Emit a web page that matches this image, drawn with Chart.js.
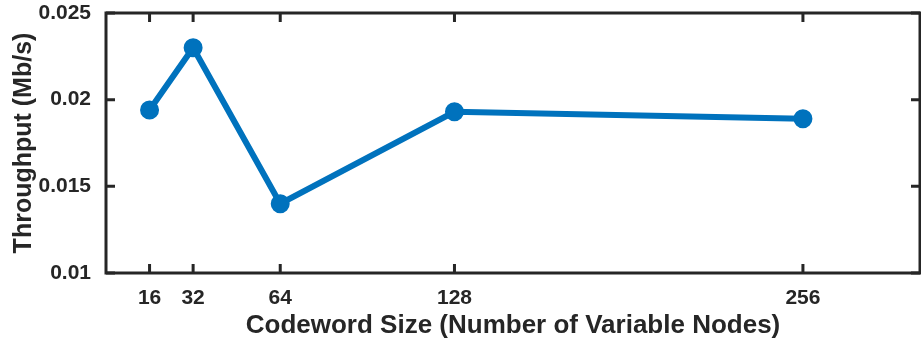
<!DOCTYPE html>
<html>
<head>
<meta charset="utf-8">
<script src="https://cdn.jsdelivr.net/npm/chart.js@4.4.1/dist/chart.umd.min.js"></script>
<style>
    html, body { margin: 0; padding: 0; background: #fff; overflow: hidden; }
    #wrap { width: 921px; height: 350px; position: relative; }
</style>
</head>
<body>
<div id="wrap"><canvas id="throughputChart"></canvas></div>
<script>
// codeword size vs throughput
const codewordSizes = [16, 32, 64, 128, 256];
const throughput = [0.0194, 0.0230, 0.0140, 0.0193, 0.0189];
const xTicks = [16, 32, 64, 128, 256];
const yTicks = [0.01, 0.015, 0.02, 0.025];

const axisColor = '#262626';
const fontFamily = '"Liberation Sans", Arial, Helvetica, sans-serif';

// matlab style box with inward ticks on all sides
const boxPlugin = {
    id: 'boxPlugin',
    afterDraw(chart) {
        const ctx = chart.ctx;
        const a = chart.chartArea;
        const xs = chart.scales.x;
        const ys = chart.scales.y;
        const len = 9;
        ctx.save();
        ctx.strokeStyle = axisColor;
        ctx.lineWidth = 3;
        ctx.beginPath();
        xTicks.forEach(v => {
            const px = xs.getPixelForValue(v);
            ctx.moveTo(px, a.bottom);
            ctx.lineTo(px, a.bottom - len);
            ctx.moveTo(px, a.top);
            ctx.lineTo(px, a.top + len);
        });
        yTicks.forEach(v => {
            const py = ys.getPixelForValue(v);
            ctx.moveTo(a.left, py);
            ctx.lineTo(a.left + len, py);
            ctx.moveTo(a.right, py);
            ctx.lineTo(a.right - len, py);
        });
        ctx.stroke();
        ctx.strokeRect(a.left, a.top, a.right - a.left, a.bottom - a.top);
        ctx.restore();
    }
};

const ctx = document.getElementById('throughputChart').getContext('2d');
const chart = new Chart(ctx, {
    type: 'line',
    data: {
        datasets: [{
            data: codewordSizes.map((x, i) => ({ x: x, y: throughput[i] })),
            borderColor: '#0072BD',
            backgroundColor: '#0072BD',
            borderWidth: 6,
            pointRadius: 8,
            pointBorderWidth: 3,
            pointBorderColor: '#0072BD',
            pointBackgroundColor: '#0072BD',
            tension: 0,
            fill: false,
            clip: false
        }]
    },
    options: {
        responsive: true,
        maintainAspectRatio: false,
        animation: false,
        layout: {
            autoPadding: false,
            padding: { top: 13, right: 1, left: 0, bottom: 0 }
        },
        plugins: {
            legend: { display: false },
            tooltip: { enabled: false }
        },
        scales: {
            x: {
                type: 'linear',
                min: 0,
                max: 299,
                grid: { display: false },
                border: { display: false },
                afterBuildTicks: scale => {
                    scale.ticks = xTicks.map(v => ({ value: v }));
                },
                afterFit: scale => {
                    scale.height = 77;
                    scale.paddingLeft = 0;
                    scale.paddingRight = 0;
                },
                ticks: {
                    autoSkip: false,
                    maxRotation: 0,
                    padding: 5,
                    color: axisColor,
                    font: { family: fontFamily, size: 21, weight: 'bold' }
                },
                title: {
                    display: true,
                    text: 'Codeword Size (Number of Variable Nodes)',
                    color: axisColor,
                    padding: { top: 0, bottom: 9 },
                    font: { family: fontFamily, size: 26, weight: 'bold' }
                }
            },
            y: {
                min: 0.01,
                max: 0.025,
                grid: { display: false },
                border: { display: false },
                afterBuildTicks: scale => {
                    scale.ticks = yTicks.map(v => ({ value: v }));
                },
                afterFit: scale => {
                    scale.width = 106;
                    scale.paddingTop = 0;
                    scale.paddingBottom = 0;
                },
                ticks: {
                    padding: 7,
                    color: axisColor,
                    font: { family: fontFamily, size: 21, weight: 'bold' },
                    callback: value => String(+value.toFixed(3))
                },
                title: {
                    display: true,
                    text: 'Throughput (Mb/s)',
                    color: axisColor,
                    padding: { top: 9, bottom: 0 },
                    font: { family: fontFamily, size: 25, weight: 'bold' }
                }
            }
        }
    },
    plugins: [boxPlugin]
});
</script>
</body>
</html>
